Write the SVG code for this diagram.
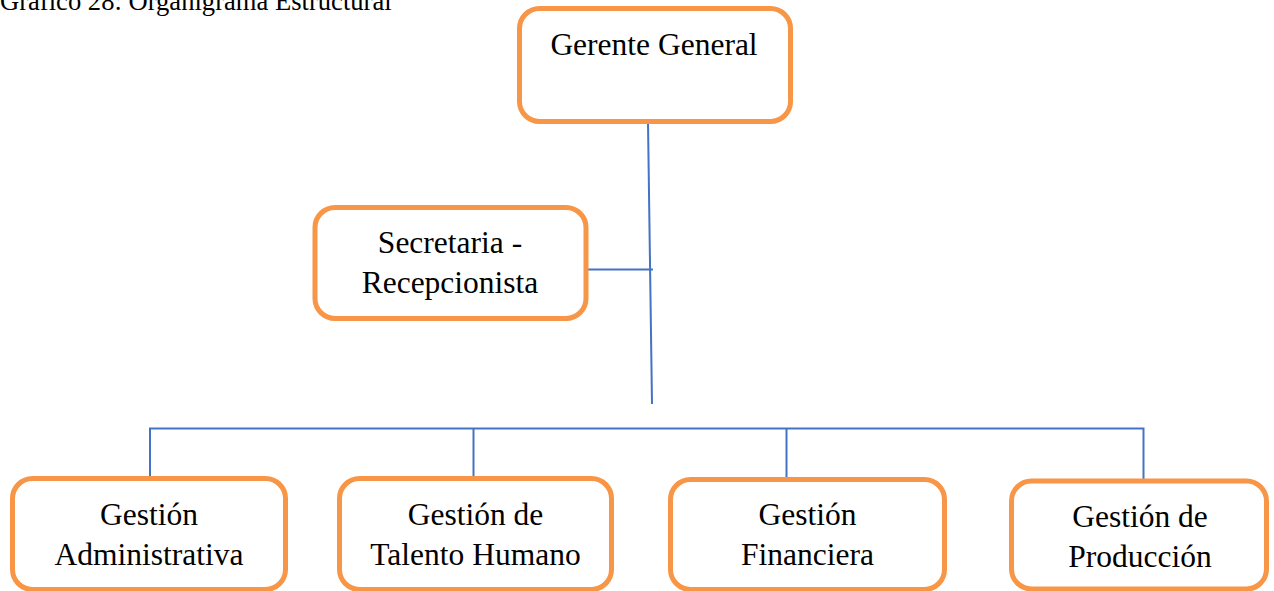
<svg xmlns="http://www.w3.org/2000/svg" width="1274" height="591" viewBox="0 0 1274 591">
<style>
.box{fill:#fff;stroke:#F79646;stroke-width:5}
.t{font-family:"Liberation Serif","Times New Roman",serif;font-size:31.5px;fill:#000;text-anchor:middle}
.title{font-family:"Liberation Serif","Times New Roman",serif;font-size:26.6px;fill:#000}
.c{stroke:#4472C4;stroke-width:2;fill:none}
</style>
<rect width="1274" height="591" fill="#fff"/>
<text class="title" x="0" y="10">Gráfico 28: Organigrama Estructural</text>
<g id="connectors">
<line class="c" x1="648" y1="122" x2="652" y2="404"/>
<line class="c" x1="588" y1="269.5" x2="653" y2="269.5"/>
<polyline class="c" points="150,477 150,428.5 1143.5,428.5 1143.5,479"/>
<line class="c" x1="473.5" y1="428.5" x2="473.5" y2="477"/>
<line class="c" x1="786.5" y1="428.5" x2="786.5" y2="478"/>
</g>
<g id="gerente">
<rect class="box" x="519.5" y="8.5" width="271" height="113" rx="20"/>
<text class="t" x="654" y="55">Gerente General</text>
</g>
<g id="secretaria">
<rect class="box" x="315" y="207.5" width="271" height="111" rx="20"/>
<text class="t" x="450" y="253">Secretaria -</text>
<text class="t" x="450" y="293">Recepcionista</text>
</g>
<g id="administrativa">
<rect class="box" x="12.5" y="478.5" width="273" height="111" rx="20"/>
<text class="t" x="149" y="525">Gestión</text>
<text class="t" x="149" y="565">Administrativa</text>
</g>
<g id="talento">
<rect class="box" x="339.5" y="478.5" width="272" height="111" rx="20"/>
<text class="t" x="475.5" y="525">Gestión de</text>
<text class="t" x="475.5" y="565">Talento Humano</text>
</g>
<g id="financiera">
<rect class="box" x="670.5" y="479.5" width="274" height="110" rx="20"/>
<text class="t" x="807.5" y="525">Gestión</text>
<text class="t" x="807.5" y="565">Financiera</text>
</g>
<g id="produccion">
<rect class="box" x="1011.5" y="481" width="255" height="108" rx="20"/>
<text class="t" x="1140" y="527">Gestión de</text>
<text class="t" x="1140" y="567">Producción</text>
</g>
</svg>
